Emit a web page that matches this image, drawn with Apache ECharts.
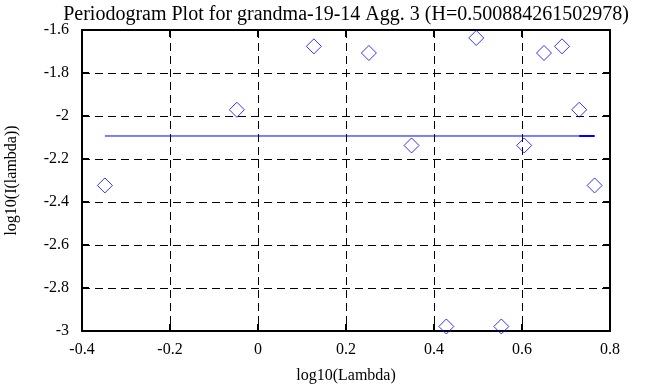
<!DOCTYPE html>
<html>
<head>
<meta charset="utf-8">
<script src="https://cdn.jsdelivr.net/npm/echarts@6/dist/echarts.min.js"></script>
<style>
html,body{margin:0;padding:0;background:#fff;}
#chart{width:668px;height:387px;}
</style>
</head>
<body>
<div id="chart"></div>
<script>
var titleText = 'Periodogram Plot for grandma-19-14 Agg. 3 (H=0.500884261502978)';
var xName = 'log10(Lambda)';
var yName = 'log10(I(lambda))';
var logLambda = [-0.348, -0.048, 0.127, 0.252, 0.349, 0.428, 0.496, 0.553, 0.605, 0.650, 0.691, 0.730, 0.765];
var logI = [-2.323, -1.971, -1.676, -1.707, -2.137, -2.979, -1.637, -2.979, -2.137, -1.707, -1.676, -1.971, -2.323];
var fitY = -2.093;
var xMin = -0.4, xMax = 0.8, xStep = 0.2;
var yMin = -3, yMax = -1.6, yStep = 0.2;

var pts = logLambda.map(function (x, i) { return [x, logI[i]]; });
var n = logLambda.length;
var fitLine = [[logLambda[0], fitY], [logLambda[n - 1], fitY]];
var fitTail = [[logLambda[n - 2], fitY], [logLambda[n - 1], fitY]];

var font = 'Liberation Serif';
var chart = echarts.init(document.getElementById('chart'), null, {renderer: 'canvas'});
chart.setOption({
  animation: false,
  backgroundColor: '#fff',
  title: {
    text: titleText, left: 341, top: 0, textAlign: 'center',
    textStyle: {fontFamily: font, fontSize: 20, fontWeight: 'normal', color: '#000'}
  },
  grid: {left: 82, top: 30, width: 528, height: 301, show: false, containLabel: false, outerBoundsMode: 'none'},
  xAxis: [{
    type: 'value', min: xMin, max: xMax, interval: xStep, position: 'bottom',
    name: xName, nameLocation: 'middle', nameGap: 37,
    nameTextStyle: {fontFamily: font, fontSize: 16, color: '#000'},
    axisLine: {show: true, onZero: false, lineStyle: {color: '#000', width: 2}},
    axisTick: {show: true, inside: true, length: 7, lineStyle: {color: '#000', width: 2}},
    axisLabel: {fontFamily: font, fontSize: 16, color: '#000', margin: 11},
    splitLine: {show: true, lineStyle: {color: '#000', width: 1, type: [8, 5]}}
  }, {
    type: 'value', min: xMin, max: xMax, interval: xStep, position: 'top',
    axisLine: {show: true, onZero: false, lineStyle: {color: '#000', width: 2}},
    axisTick: {show: true, inside: true, length: 7, lineStyle: {color: '#000', width: 2}},
    axisLabel: {show: false}, splitLine: {show: false}
  }],
  yAxis: [{
    type: 'value', min: yMin, max: yMax, interval: yStep, position: 'left',
    name: yName, nameLocation: 'middle', nameGap: 62, nameRotate: 90,
    nameTextStyle: {fontFamily: font, fontSize: 16, color: '#000'},
    axisLine: {show: true, onZero: false, lineStyle: {color: '#000', width: 2}},
    axisTick: {show: true, inside: true, length: 7, lineStyle: {color: '#000', width: 2}},
    axisLabel: {fontFamily: font, fontSize: 16, color: '#000', margin: 13},
    splitLine: {show: true, lineStyle: {color: '#000', width: 1, type: [8, 5]}}
  }, {
    type: 'value', min: yMin, max: yMax, interval: yStep, position: 'right',
    axisLine: {show: true, onZero: false, lineStyle: {color: '#000', width: 2}},
    axisTick: {show: true, inside: true, length: 7, lineStyle: {color: '#000', width: 2}},
    axisLabel: {show: false}, splitLine: {show: false}
  }],
  series: [{
    type: 'line', data: fitLine, xAxisIndex: 0, yAxisIndex: 0,
    showSymbol: false, symbol: 'none',
    lineStyle: {color: '#0000ff', width: 1}, z: 3
  }, {
    type: 'line', data: fitTail, xAxisIndex: 0, yAxisIndex: 0,
    showSymbol: false, symbol: 'none',
    lineStyle: {color: '#0000ff', width: 2}, z: 3
  }, {
    type: 'scatter', data: pts, xAxisIndex: 0, yAxisIndex: 0,
    symbol: 'diamond', symbolSize: 15,
    itemStyle: {color: 'rgba(0,0,0,0)', borderColor: '#0000ff', borderWidth: 1},
    z: 4
  }]
});
</script>
</body>
</html>
